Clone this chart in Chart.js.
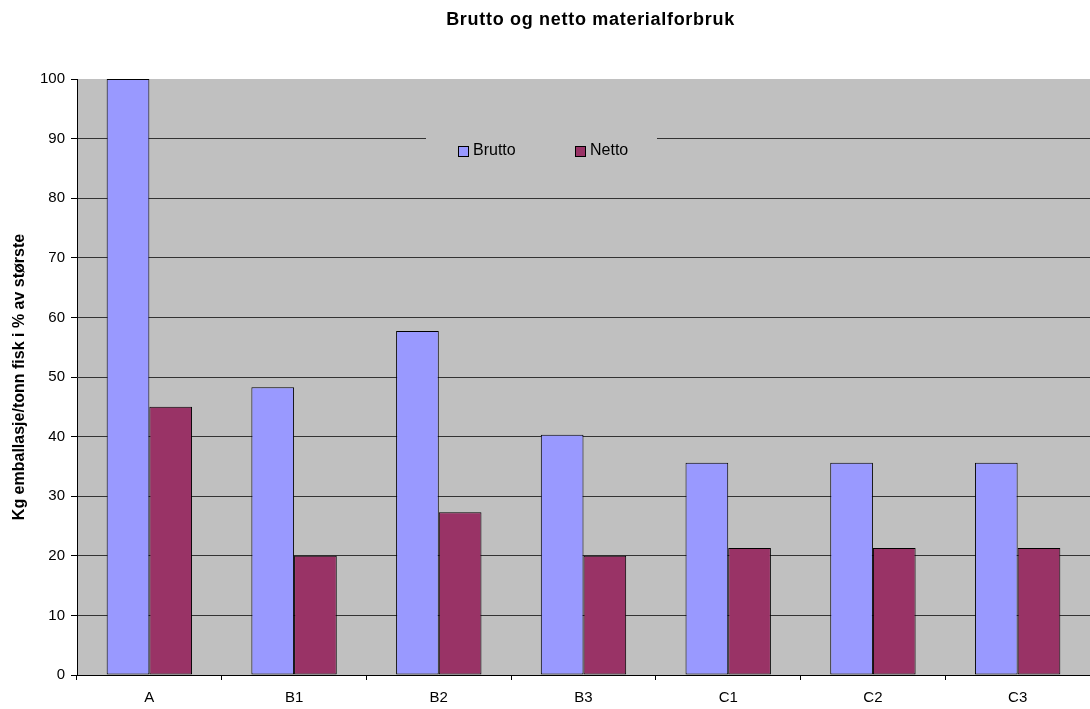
<!DOCTYPE html>
<html>
<head>
<meta charset="utf-8">
<script src="https://cdn.jsdelivr.net/npm/chart.js@4"></script>
<style>
  html, body { margin: 0; padding: 0; background: #fff; }
  #wrap { width: 1090px; height: 709px; }
</style>
</head>
<body>
<div id="wrap"><canvas id="chart" width="1090" height="709"></canvas></div>
<script>
// data
const categories = ["A", "B1", "B2", "B3", "C1", "C2", "C3"];
const brutto = [100, 48.3, 57.7, 40.3, 35.6, 35.6, 35.6];
const netto = [45, 20, 27.3, 20, 21.3, 21.3, 21.3];
const seriesNames = ["Brutto", "Netto"];
const yTicks = [0, 10, 20, 30, 40, 50, 60, 70, 80, 90, 100];
const chartTitle = "Brutto og netto materialforbruk";
const yTitle = "Kg emballasje/tonn fisk i % av største";

const FONT = "'Liberation Sans', Arial, sans-serif";
const PLOT_BG = "#C0C0C0";

// grey plot background
const plotBg = {
    id: "plotBg",
    beforeDraw(chart) {
        const a = chart.chartArea, c = chart.ctx;
        c.save();
        c.fillStyle = PLOT_BG;
        c.fillRect(a.left, a.top, a.right - a.left, a.bottom - a.top);
        c.restore();
    }
};

// title over the plot, a bit spaced out like the original
const spacedTitle = {
    id: "spacedTitle",
    afterDraw(chart) {
        const a = chart.chartArea, c = chart.ctx;
        c.save();
        c.font = "bold 18px " + FONT;
        if ("letterSpacing" in c) c.letterSpacing = "0.7px";
        c.fillStyle = "#000";
        c.textAlign = "center";
        c.textBaseline = "middle";
        c.fillText(chartTitle, (a.left + a.right) / 2 + 7, 20);
        c.restore();
    }
};

// legend sitting inside the plot, covering the grid line behind it
const innerLegend = {
    id: "innerLegend",
    beforeDatasetsDraw(chart) {
        const c = chart.ctx;
        const x0 = 426, x1 = 657, y0 = 124, y1 = 174;
        c.save();
        c.fillStyle = PLOT_BG;
        c.fillRect(x0, y0, x1 - x0, y1 - y0);
        const xs = [458, 575];
        c.font = "16px " + FONT;
        c.textBaseline = "middle";
        chart.data.datasets.forEach((ds, i) => {
            c.fillStyle = ds.backgroundColor;
            c.fillRect(xs[i] + 0.5, 146.5, 10, 10);
            c.strokeStyle = "#000";
            c.lineWidth = 1;
            c.strokeRect(xs[i] + 0.5, 146.5, 10, 10);
            c.fillStyle = "#000";
            c.fillText(ds.label, xs[i] + 15, 151);
        });
        c.restore();
    }
};

const ctx = document.getElementById("chart").getContext("2d");
new Chart(ctx, {
    type: "bar",
    data: {
        labels: categories,
        datasets: [
            { label: seriesNames[0], data: brutto, backgroundColor: "#9999FF", borderColor: "#000", borderWidth: 1, borderSkipped: false },
            { label: seriesNames[1], data: netto, backgroundColor: "#993366", borderColor: "#000", borderWidth: 1, borderSkipped: false }
        ]
    },
    options: {
        responsive: false,
        animation: false,
        layout: { padding: { left: 10, right: 0, top: 79, bottom: 0 } },
        datasets: { bar: { categoryPercentage: 0.59, barPercentage: 1 } },
        plugins: {
            legend: { display: false },
            tooltip: { enabled: false },
            title: { display: false }
        },
        scales: {
            x: {
                offset: true,
                afterFit(axis) { axis.height = 34; },
                grid: { offset: true, drawOnChartArea: false, color: "#000", tickLength: 5 },
                border: { color: "#000", width: 1 },
                ticks: { color: "#000", font: { family: FONT, size: 15 }, padding: 9, maxRotation: 0 }
            },
            y: {
                min: 0,
                max: 100,
                afterFit(axis) { axis.width = 67; },
                afterBuildTicks(axis) { axis.ticks = yTicks.map(v => ({ value: v })); },
                grid: {
                    color: (c) => (c.tick && c.tick.value === 100) ? "rgba(0,0,0,0)" : "#333",
                    tickColor: "#000",
                    tickLength: 6
                },
                border: { color: "#000", width: 1 },
                ticks: { color: "#000", font: { family: FONT, size: 15 }, padding: 6 },
                title: {
                    display: true,
                    text: yTitle,
                    color: "#000",
                    font: { family: FONT, size: 16, weight: "bold" },
                    padding: { top: 0, bottom: 5 }
                }
            }
        }
    },
    plugins: [plotBg, innerLegend, spacedTitle]
});
</script>
</body>
</html>
